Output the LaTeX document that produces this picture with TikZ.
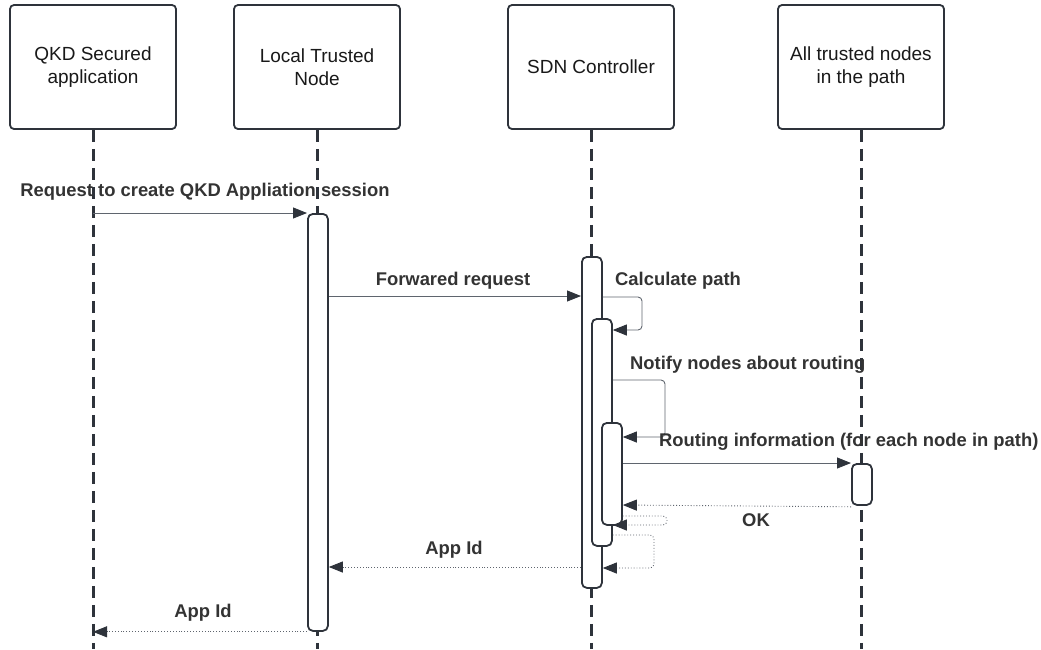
\documentclass[tikz,border=0pt]{standalone}
\usepackage{fontspec}
\setmainfont{Liberation Sans}
\usetikzlibrary{arrows.meta}
\definecolor{ink}{HTML}{2E333B}
\definecolor{wire}{HTML}{5F656E}
\definecolor{lbl}{HTML}{333333}
\tikzset{
  actor/.style={draw=ink, line width=1.8pt, rounded corners=4pt, fill=white,
    minimum width=166pt, minimum height=124pt, align=center,
    font=\fontsize{19}{22.5}\selectfont, text=black!90, inner sep=0pt},
  lifeline/.style={draw=ink, line width=3pt, dash pattern=on 12pt off 7pt},
  actbar/.style={draw=ink, line width=1.8pt, rounded corners=5pt, fill=white,
    inner sep=0pt, minimum width=20pt},
  msg/.style={draw=wire, line width=0.9pt, rounded corners=4pt,
    -{Triangle[length=14pt,width=11pt,fill=ink,color=ink]}},
  reply/.style={msg, dotted},
  mlabel/.style={font=\bfseries\fontsize{18.4}{22}\selectfont, text=lbl, inner sep=0pt}
}
\begin{document}
\begin{tikzpicture}[x=1pt,y=-1pt]
\useasboundingbox (0,0) rectangle (1041,649);

% participants
\node[actor] (app) at (93,67) {QKD Secured\\application};
\node[actor] (ltn) at (317,67) {Local Trusted\\Node};
\node[actor] (sdn) at (591,67) {SDN Controller};
\node[actor] (atn) at (861,67) {All trusted nodes\\in the path};

% lifelines
\coordinate (appEnd) at (93,649);
\coordinate (ltnEnd) at (317,649);
\coordinate (sdnEnd) at (591,649);
\coordinate (atnEnd) at (861,649);
\draw[lifeline] (app.south) -- (appEnd);
\draw[lifeline] (ltn.south) -- (ltnEnd);
\draw[lifeline] (sdn.south) -- (sdnEnd);
\draw[lifeline] (atn.south) -- (atnEnd);

% activation bars
\node[actbar, minimum height=417pt, anchor=north west] (barL) at (307,213) {};
\node[actbar, minimum height=331pt, anchor=north west] (barS1) at (581,256) {};
\node[actbar, minimum height=227pt, anchor=north west] (barS2) at (591,318) {};
\node[actbar, minimum height=102pt, anchor=north west] (barS3) at (601,422) {};
\node[actbar, minimum height=41pt, anchor=north west] (barT) at (851,463) {};

% messages
\draw[msg] (app.south |- barL.north) -- (barL.north west);
\node[mlabel] (m1) at (205,192) {Request to create QKD Appliation session};

\draw[msg] (barL.east |- 0,296) -- (barS1.west |- 0,296);
\node[mlabel] (m2) at (453,281) {Forwared request};

\draw[msg] (barS1.east |- 0,297) -- (642,297) -- (642,330) -- (barS2.east |- 0,330);
\node[mlabel, anchor=west] (m3) at (615,281) {Calculate path};

\draw[msg] (barS2.east |- 0,380) -- (665,380) -- (665,437) -- (barS3.east |- 0,437);
\node[mlabel, anchor=west] (m4) at (630,365) {Notify nodes about routing};

\draw[msg] (barS3.east |- barT.north) -- (barT.north west);
\node[mlabel, anchor=west] (m5) at (659,442) {Routing information (for each node in path)};

\draw[reply] (barT.south west) ++(0,1) -- (barS3.east |- 0,505);
\node[mlabel] (m6) at (756,520) {OK};

\draw[reply] (barS3.east |- 0,516) -- (667,516) -- (667,525) -- (barS2.east |- 0,525);
\draw[reply] (barS2.east |- 0,535) -- (654,535) -- (654,568) -- (barS1.east |- 0,568);

\draw[reply] (barS1.west |- 0,567) -- (barL.east |- 0,567);
\node[mlabel] (m7) at (454,550) {App Id};

\draw[reply] (barL.south west) -- (app.south |- barL.south);
\node[mlabel] (m8) at (203,613) {App Id};
\end{tikzpicture}
\end{document}
